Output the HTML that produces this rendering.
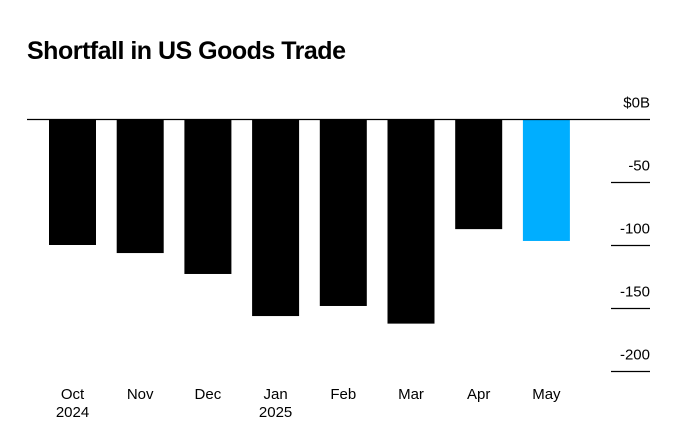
<!DOCTYPE html>
<html><head><meta charset="utf-8"><style>
body{margin:0;background:#fff;width:680px;height:426px;overflow:hidden;font-family:"Liberation Sans",sans-serif}
</style></head><body>
<svg width="680" height="426">
<text x="27" y="59" font-size="25" font-weight="bold" fill="#000" style="letter-spacing:-0.5px">Shortfall in US Goods Trade</text>
<g id="bars"></g><g id="axis"></g>
</svg>
<script>
const categories=["Oct","Nov","Dec","Jan","Feb","Mar","Apr","May"];
const subLabels=["2024","","","2025","","","",""];
const values=[-99.6,-106,-122.6,-156,-148,-162,-87,-96.4];
const tickValues=[0,-50,-100,-150,-200];
const tickLabels=["$0B","-50","-100","-150","-200"];
const ns="http://www.w3.org/2000/svg";
const y0=119.5,pxPer=1.26;
function y(v){return y0-v*pxPer;}
function x(i){return 49+i*67.7;}
const bw=47;
const bars=document.getElementById('bars'),axis=document.getElementById('axis');
function mk(t,a,p){const e=document.createElementNS(ns,t);for(const k in a)e.setAttribute(k,a[k]);p.appendChild(e);return e;}
values.forEach((v,i)=>{
 const r=mk('rect',{x:x(i),y:Math.min(y(0),y(v)),width:bw,height:Math.abs(y(v)-y(0)),fill:i===values.length-1?'#00aeff':'#000'},bars);
 
 
 const t=mk('text',{x:x(i)+bw/2,y:399,'text-anchor':'middle','font-size':15,fill:'#000'},axis);
 t.textContent=categories[i];
 
 
 if(subLabels[i]){const s=mk('text',{x:x(i)+bw/2,y:417,'text-anchor':'middle','font-size':15,fill:'#000'},axis);s.textContent=subLabels[i];
 
 }
});
tickValues.forEach((v,i)=>{
 const yy=y(v);
 const l=mk('line',{x1:v===0?27:611,x2:650,y1:yy,y2:yy,stroke:'#000','stroke-width':1.3},axis);
 
 
 const t=mk('text',{x:650,y:yy-12,'text-anchor':'end','font-size':15,fill:'#000'},axis);
 t.textContent=tickLabels[i];
 
 
});
</script>
</body></html>
